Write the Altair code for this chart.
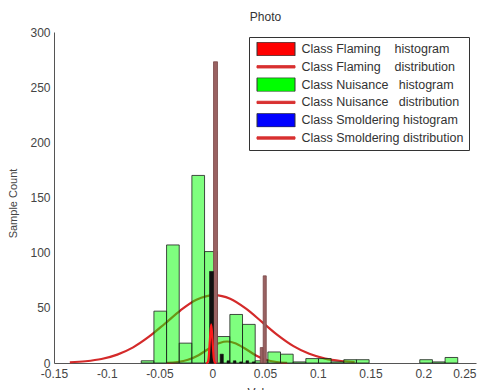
import altair as alt
import pandas as pd

FONT = "Liberation Sans"

# ---------------- data ----------------
# Class Nuisance histogram (green bars): bin left edges and counts
bin_width = 0.0120
nuis_left = [-0.0673, -0.0553, -0.0433, -0.0313, -0.0193, -0.0073, 0.0047, 0.0167, 0.0287, 0.0407,
             0.0527, 0.0647, 0.0767, 0.0887, 0.1007, 0.1127, 0.1247, 0.1367, 0.1487, 0.1607,
             0.1727, 0.1847, 0.1967, 0.2087, 0.2207]
nuis_count = [2, 47, 107, 18, 170, 101, 24, 44, 35, 2,
              10, 8, 1, 4, 4, 1, 3, 3, 0, 0,
              0, 0, 3, 1, 5]

# Class Flaming histogram (narrow brownish bars)
flam_left = [0.0012, 0.0455, 0.0483]
flam_right = [0.0050, 0.0483, 0.0512]
flam_count = [273, 14, 79]

# Class Smoldering histogram (narrow dark bars)
smol_left = [-0.0026, 0.0075, 0.0140, 0.0200, 0.0260, 0.0320, 0.0380]
smol_right = [0.0012, 0.0105, 0.0165, 0.0225, 0.0285, 0.0345, 0.0405]
smol_count = [83, 8, 2, 2, 1, 2, 1]

# distribution curves
nuis_curve_x = [-0.135, -0.12, -0.105, -0.09, -0.075, -0.06, -0.045, -0.03, -0.015, 0.002,
                0.017, 0.032, 0.047, 0.062, 0.077, 0.092, 0.107, 0.122, 0.135]
nuis_curve_y = [0.6, 1.6, 3.6, 7.6, 14.2, 23.8, 35.6, 47.8, 57.3, 61.5,
                58.2, 49.2, 37.3, 25.3, 15.3, 8.3, 4.0, 1.8, 0.8]

flam_curve_x = [-0.043, -0.033, -0.023, -0.013, -0.003, 0.007, 0.014, 0.021, 0.031, 0.041,
                0.051, 0.061, 0.071]
flam_curve_y = [0.2, 0.9, 2.9, 7.1, 13.1, 18.2, 19.5, 18.2, 13.1, 7.1, 2.9, 0.9, 0.2]

smol_curve_x = [-0.0058, -0.0046, -0.0034, -0.0022, -0.001, 0.0002, 0.0014, 0.0026, 0.0038]
smol_curve_y = [0.0, 0.4, 4.7, 21.2, 35.0, 21.2, 4.7, 0.4, 0.0]

x_ticks = [-0.15, -0.1, -0.05, 0, 0.05, 0.1, 0.15, 0.2, 0.25]
y_ticks = [0, 50, 100, 150, 200, 250, 300]

NB = "\u00a0"
legend_entries = [
    "Class Flaming" + NB * 4 + "histogram",
    "Class Flaming" + NB * 4 + "distribution",
    "Class Nuisance" + NB * 3 + "histogram",
    "Class Nuisance" + NB * 3 + "distribution",
    "Class Smoldering histogram",
    "Class Smoldering distribution",
]
legend_fill = ["#ff0000", "#d83030", "#00ff00", "#d83030", "#0000ff", "#d83030"]
legend_stroke = ["#333333", "#d83030", "#333333", "#d83030", "#333333", "#d83030"]
SWATCH = "M-1,-0.36L1,-0.36L1,0.36L-1,0.36Z"
LINE = "M-1,-0.06L1,-0.06L1,0.06L-1,0.06Z"
legend_shape = [SWATCH, LINE, SWATCH, LINE, SWATCH, LINE]

# ---------------- tables ----------------
nuis_df = pd.DataFrame({"x": nuis_left,
                        "x2": [v + bin_width for v in nuis_left],
                        "y": nuis_count})
nuis_df = nuis_df[nuis_df["y"] > 0]
flam_df = pd.DataFrame({"x": flam_left, "x2": flam_right, "y": flam_count})
smol_df = pd.DataFrame({"x": smol_left, "x2": smol_right, "y": smol_count})
curve_df = pd.concat([
    pd.DataFrame({"x": nuis_curve_x, "y": nuis_curve_y, "series": "Nuisance"}),
    pd.DataFrame({"x": flam_curve_x, "y": flam_curve_y, "series": "Flaming"}),
])
spike_df = pd.DataFrame({"x": smol_curve_x, "y": smol_curve_y})
legend_df = pd.DataFrame({"entry": legend_entries})

# ---------------- scales / axes ----------------
xs = alt.Scale(domain=[-0.15, 0.25], nice=False, zero=False)
ys = alt.Scale(domain=[0, 300], nice=False)

x_axis = alt.Axis(
    orient="bottom", values=x_ticks,
    labelExpr="datum.value < 0 ? '-' + format(-datum.value, '.2~f') : format(datum.value, '.2~f')",
    labelAlign={"condition": {"test": "datum.value > 0.24", "value": "right"}, "value": "center"},
    title="Values", titleFont=FONT, titleFontSize=12, titleFontWeight="normal", titleColor="#333",
    titleBaseline="top", titleY=24,
    labelFont=FONT, labelFontSize=12, labelColor="#444", labelPadding=5,
    ticks=False, tickSize=0, grid=False, domain=True, domainColor="#555", domainWidth=1,
    labelFlush=False,
)
# top axis used only to carry the chart title "Photo"
top_axis = alt.Axis(
    orient="top", labels=False, ticks=False, domain=False, grid=False,
    title="Photo", titleFont=FONT, titleFontSize=12, titleFontWeight="normal", titleColor="#333",
    titleBaseline="alphabetic", titleY=-12, titleAnchor="middle",
)
y_axis = alt.Axis(
    values=y_ticks,
    title="Sample Count", titleFont=FONT, titleFontSize=11, titleFontWeight="normal", titleColor="#444",
    titleX=-36, titleY=171, titleAlign="center", titleBaseline="bottom", titleAngle=270,
    labelFont=FONT, labelFontSize=12, labelColor="#444", labelPadding=4,
    ticks=False, tickSize=0, grid=False, domain=True, domainColor="#555", domainWidth=1,
    labelFlush=False,
)

curves = alt.Chart(curve_df).mark_line(color="#d42a2a", strokeWidth=2.2, interpolate="monotone").encode(
    x=alt.X("x:Q", scale=xs, axis=x_axis),
    y=alt.Y("y:Q", scale=ys, axis=y_axis),
    detail="series:N",
)

green = alt.Chart(nuis_df).mark_rect(fill="#00ff00", fillOpacity=0.5, stroke="#1e1e1e", strokeWidth=0.8).encode(
    x=alt.X("x:Q", scale=xs, axis=top_axis), x2="x2:Q",
    y=alt.Y("y:Q", scale=ys, title="Sample Count"), y2=alt.datum(0),
)

brown = alt.Chart(flam_df).mark_rect(fill="#9a6262", stroke="#7a4848", strokeWidth=0.8).encode(
    x=alt.X("x:Q", scale=xs, axis=None), x2="x2:Q",
    y=alt.Y("y:Q", scale=ys, title="Sample Count"), y2=alt.datum(0),
)

black = alt.Chart(smol_df).mark_rect(fill="#101010", stroke="#101010", strokeWidth=0.6).encode(
    x=alt.X("x:Q", scale=xs, axis=None), x2="x2:Q",
    y=alt.Y("y:Q", scale=ys, title="Sample Count"), y2=alt.datum(0),
)

spike = alt.Chart(spike_df).mark_line(color="#ff1a1a", strokeWidth=2.2, interpolate="monotone").encode(
    x=alt.X("x:Q", scale=xs, axis=None),
    y=alt.Y("y:Q", scale=ys, title="Sample Count"),
)

leg_props = dict(
    orient="none", legendX=195, legendY=5, direction="vertical", title=None,
    strokeColor="#333", fillColor="white", padding=5, cornerRadius=0,
    symbolSize=1444, clipHeight=14, rowPadding=3.8, symbolStrokeWidth=1, symbolOpacity=1,
    symbolOffset=2.5,
    labelFont=FONT, labelFontSize=12.5, labelColor="#333", labelOffset=6, labelLimit=400,
)

legend_pts = alt.Chart(legend_df).mark_point(filled=True, opacity=1, clip=True).encode(
    x=alt.XDatum(1.0, axis=None),
    y=alt.YDatum(150, title="Sample Count"),
    fill=alt.Fill("entry:N", scale=alt.Scale(domain=legend_entries, range=legend_fill), legend=alt.Legend(**leg_props)),
    stroke=alt.Stroke("entry:N", scale=alt.Scale(domain=legend_entries, range=legend_stroke), legend=alt.Legend(**leg_props)),
    shape=alt.Shape("entry:N", scale=alt.Scale(domain=legend_entries, range=legend_shape), legend=alt.Legend(**leg_props)),
)

chart = alt.layer(curves, green, brown, black, spike, legend_pts).resolve_axis(
    x="independent"
).properties(
    width=422, height=331,
    autosize=alt.AutoSizeParams(type="none"),
    padding={"left": 46, "top": 24, "right": 5, "bottom": 27},
    background="white",
).configure_view(stroke=None)

chart.save("out.html", embed_options={"renderer": "svg", "actions": False})
